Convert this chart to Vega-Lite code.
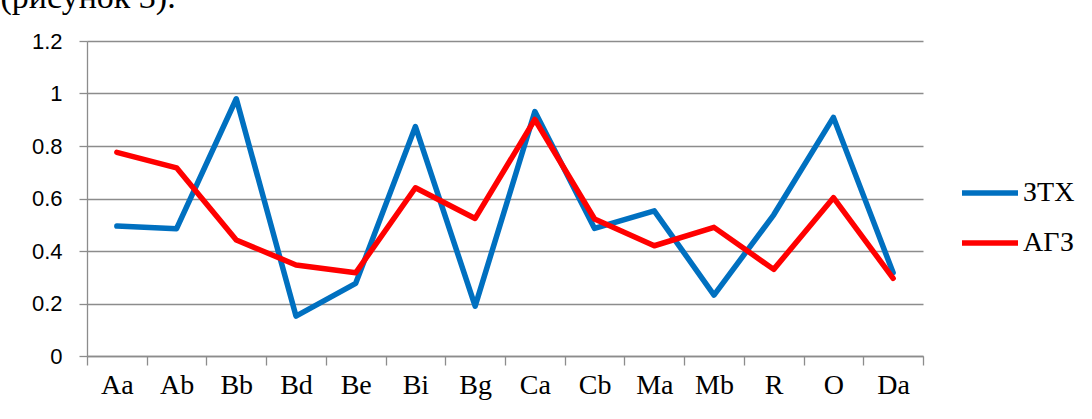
{
  "$schema": "https://vega.github.io/schema/vega-lite/v6.json",
  "autosize": "none",
  "width": 836,
  "height": 315,
  "padding": {"left": 87, "top": 41, "right": 169, "bottom": 63},
  "background": "white",
  "data": {
    "values": [
      {"cat": "Aa", "series": "ЗТХ", "value": 0.495},
      {"cat": "Ab", "series": "ЗТХ", "value": 0.485},
      {"cat": "Bb", "series": "ЗТХ", "value": 0.98},
      {"cat": "Bd", "series": "ЗТХ", "value": 0.152},
      {"cat": "Be", "series": "ЗТХ", "value": 0.277},
      {"cat": "Bi", "series": "ЗТХ", "value": 0.874},
      {"cat": "Bg", "series": "ЗТХ", "value": 0.19},
      {"cat": "Ca", "series": "ЗТХ", "value": 0.931},
      {"cat": "Cb", "series": "ЗТХ", "value": 0.486},
      {"cat": "Ma", "series": "ЗТХ", "value": 0.553},
      {"cat": "Mb", "series": "ЗТХ", "value": 0.232},
      {"cat": "R", "series": "ЗТХ", "value": 0.538},
      {"cat": "O", "series": "ЗТХ", "value": 0.909},
      {"cat": "Da", "series": "ЗТХ", "value": 0.317},
      {"cat": "Aa", "series": "АГЗ", "value": 0.776},
      {"cat": "Ab", "series": "АГЗ", "value": 0.717},
      {"cat": "Bb", "series": "АГЗ", "value": 0.442},
      {"cat": "Bd", "series": "АГЗ", "value": 0.347},
      {"cat": "Be", "series": "АГЗ", "value": 0.317},
      {"cat": "Bi", "series": "АГЗ", "value": 0.641},
      {"cat": "Bg", "series": "АГЗ", "value": 0.524},
      {"cat": "Ca", "series": "АГЗ", "value": 0.901},
      {"cat": "Cb", "series": "АГЗ", "value": 0.522},
      {"cat": "Ma", "series": "АГЗ", "value": 0.42},
      {"cat": "Mb", "series": "АГЗ", "value": 0.49},
      {"cat": "R", "series": "АГЗ", "value": 0.33},
      {"cat": "O", "series": "АГЗ", "value": 0.603},
      {"cat": "Da", "series": "АГЗ", "value": 0.296}
    ]
  },
  "mark": {"type": "line", "strokeWidth": 5.5, "strokeJoin": "round", "strokeCap": "round"},
  "encoding": {
    "x": {
      "field": "cat",
      "type": "nominal",
      "sort": null,
      "bandPosition": 0.5,
      "scale": {"type": "band", "paddingInner": 0, "paddingOuter": 0},
      "axis": {
        "title": null,
        "labelAngle": 0,
        "tickBand": "extent",
        "grid": false,
        "labelFont": "Liberation Serif",
        "labelFontSize": 28,
        "labelColor": "black",
        "labelPadding": 6,
        "tickSize": 9,
        "tickColor": "#8c8c8c",
        "tickWidth": 1.3,
        "domainColor": "#8c8c8c",
        "domainWidth": 1.3
      }
    },
    "y": {
      "field": "value",
      "type": "quantitative",
      "scale": {"domain": [0, 1.2], "nice": false},
      "axis": {
        "title": "(рисунок 3).",
        "titleAngle": 0,
        "titleX": -87,
        "titleY": -34,
        "titleAlign": "left",
        "titleBaseline": "alphabetic",
        "titleFont": "Liberation Serif",
        "titleFontSize": 34,
        "titleFontWeight": "normal",
        "titleColor": "black",
        "values": [0, 0.2, 0.4, 0.6, 0.8, 1, 1.2],
        "format": ".1~f",
        "labelFont": "Liberation Sans",
        "labelFontSize": 22,
        "labelColor": "black",
        "labelPadding": 17,
        "tickSize": 8,
        "tickColor": "#8c8c8c",
        "tickWidth": 1.3,
        "domainColor": "#8c8c8c",
        "domainWidth": 1.3,
        "grid": true,
        "gridColor": "#8c8c8c",
        "gridWidth": 1.3
      }
    },
    "color": {
      "field": "series",
      "type": "nominal",
      "scale": {"domain": ["ЗТХ", "АГЗ"], "range": ["#0070C0", "#FF0000"]},
      "legend": {
        "title": null,
        "orient": "none",
        "legendX": 872,
        "legendY": 121,
        "symbolType": "stroke",
        "symbolSize": 3136,
        "symbolStrokeWidth": 5.5,
        "labelFont": "Liberation Serif",
        "labelFontSize": 28,
        "labelColor": "black",
        "labelOffset": 2,
        "rowPadding": 5
      }
    }
  },
  "config": {"view": {"stroke": null}}
}
